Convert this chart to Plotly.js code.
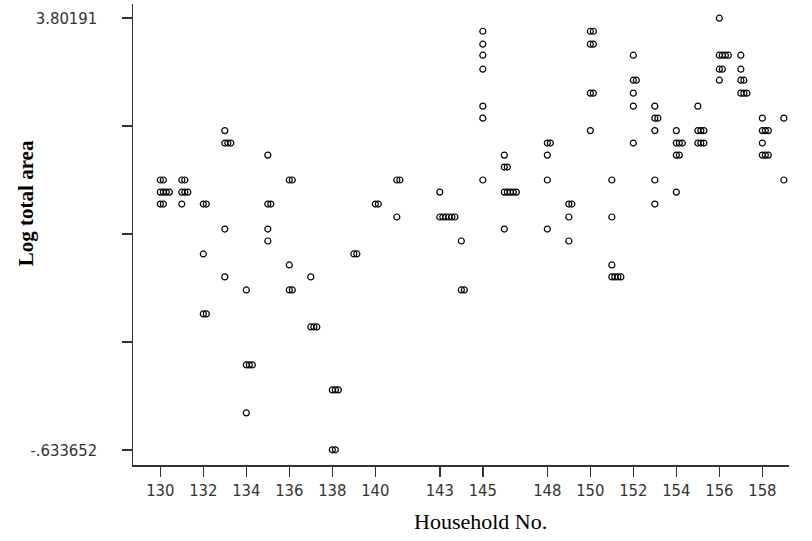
<!DOCTYPE html>
<html>
<head>
<meta charset="utf-8">
<script src="https://cdn.plot.ly/plotly-3.0.1.min.js"></script>
<style>html,body{margin:0;padding:0;background:#fff;}#chart{width:812px;height:541px;}</style>
</head>
<body>
<div id="chart"></div>
<script>
// Household number for each group of observations
const household = [
  130,130,130, 131,131,131, 132,132,132, 133,133,133,133, 134,134,134,
  135,135,135,135, 136,136,136, 137,137, 138,138, 139, 140, 141,141,
  143,143, 144,144, 145,145,145,145,145,145,145, 146,146,146,146,
  148,148,148,148, 149,149,149, 150,150,150,150, 151,151,151,151,
  152,152,152,152,152, 153,153,153,153,153, 154,154,154,154,
  155,155,155, 156,156,156,156, 157,157,157,157, 158,158,158,158, 159,159
];
// Log total area value of each group
const logArea = [
  2.139,2.015,1.892, 2.139,2.015,1.892, 1.892,1.379,0.763, 2.647,2.519,1.635,1.143, 1.009,0.239,-0.254,
  2.395,1.892,1.635,1.512, 2.139,1.266,1.009, 1.143,0.629, -0.018,-0.634, 1.379, 1.892, 2.139,1.759,
  2.015,1.759, 1.512,1.009, 3.668,3.535,3.422,3.278,2.898,2.775,2.139, 2.395,2.272,2.015,1.635,
  2.519,2.395,2.139,1.635, 1.892,1.759,1.512, 3.668,3.535,3.032,2.647, 2.139,1.759,1.266,1.143,
  3.422,3.165,3.032,2.898,2.519, 2.898,2.775,2.647,2.139,1.892, 2.647,2.519,2.395,2.015,
  2.898,2.647,2.519, 3.80191,3.422,3.278,3.165, 3.422,3.278,3.165,3.032, 2.775,2.647,2.519,2.395, 2.775,2.139
];
// Number of observations sharing that household and value
const count = [
  2,4,2, 2,3,1, 2,1,2, 1,3,1,1, 1,3,1,
  1,2,1,1, 2,1,2, 1,3, 3,2, 2, 2, 2,1,
  1,6, 1,2, 1,1,1,1,1,1,1, 1,2,5,1,
  2,1,1,1, 2,1,1, 2,2,2,1, 1,1,1,4,
  1,2,1,1,1, 1,2,1,1,1, 1,3,2,1,
  1,3,3, 1,4,2,1, 1,1,2,3, 1,3,1,3, 1,1
];
const xTickVals = [130,132,134,136,138,140,143,145,148,150,152,154,156,158];
const yMin = -0.633652, yMax = 3.80191;
const yTickText = ['3.80191','','','','-.633652'];

// expand groups: overlapping observations drawn side by side
const xs = [], ys = [];
const step = 0.14;
for (let i = 0; i < household.length; i++) {
  for (let k = 0; k < count[i]; k++) {
    xs.push(household[i] + k * step);
    ys.push(logArea[i]);
  }
}
const yTickVals = [];
for (let k = 0; k < 5; k++) yTickVals.push(yMax - k * (yMax - yMin) / 4);

const tickFont = {family: '"DejaVu Sans Condensed", "Liberation Sans Narrow", sans-serif', size: 16.5, color: '#333'};

const trace = {
  type: 'scatter', mode: 'markers', x: xs, y: ys,
  marker: {symbol: 'circle-open', size: 6, color: '#000', line: {width: 1.2, color: '#000'}},
  hoverinfo: 'x+y'
};

const layout = {
  width: 812, height: 541,
  margin: {l: 133, r: 23, t: 4, b: 76},
  paper_bgcolor: '#fff', plot_bgcolor: '#fff',
  showlegend: false,
  xaxis: {
    range: [128.73, 159.24], tickvals: xTickVals, ticktext: xTickVals.map(String),
    showgrid: false, zeroline: false, showline: true, linecolor: '#333', linewidth: 1.5,
    ticks: 'outside', ticklen: 10, tickwidth: 1.5, tickcolor: '#333', tickfont: tickFont
  },
  yaxis: {
    range: [-0.79, 3.948], tickvals: yTickVals, ticktext: yTickText,
    showgrid: false, zeroline: false, showline: true, linecolor: '#333', linewidth: 1.5,
    ticks: 'outside', ticklen: 10, tickwidth: 1.5, tickcolor: '#333', tickfont: tickFont,
    ticklabelstandoff: 21
  },
  annotations: [
    {text: 'Household No.', xref: 'paper', yref: 'paper', x: 0.529, y: -0.1236,
     xanchor: 'center', yanchor: 'middle', showarrow: false,
     font: {family: '"Liberation Serif", "Times New Roman", serif', size: 22, color: '#000'}},
    {text: '<b>Log total area</b>', xref: 'paper', yref: 'paper', x: -0.1631, y: 0.568,
     xanchor: 'center', yanchor: 'middle', showarrow: false, textangle: -90,
     font: {family: '"Liberation Serif", "Times New Roman", serif', size: 21, color: '#000'}}
  ]
};

Plotly.newPlot('chart', [trace], layout, {displayModeBar: false, staticPlot: true});
</script>
</body>
</html>
